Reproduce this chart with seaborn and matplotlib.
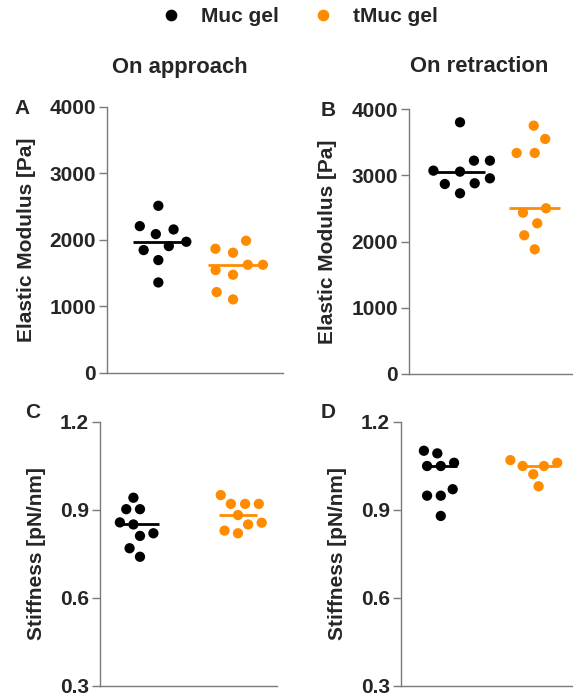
import numpy as np
import pandas as pd
import seaborn as sns
import matplotlib.pyplot as plt
from matplotlib.lines import Line2D

groups = ["Muc gel", "tMuc gel"]
colors = ["#000000", "#FF8C00"]

# elastic modulus [Pa], on approach
muc_approach_E = [2511, 2205, 2155, 2085, 1970, 1905, 1845, 1694, 1358]
tmuc_approach_E = [1985, 1865, 1805, 1624, 1624, 1544, 1474, 1213, 1103]
# elastic modulus [Pa], on retraction
muc_retract_E = [3804, 3224, 3224, 3073, 3058, 2957, 2882, 2871, 2730]
tmuc_retract_E = [3753, 3552, 3340, 3340, 2504, 2438, 2277, 2096, 1884]
# stiffness [pN/nm], on approach
muc_approach_k = [0.941, 0.902, 0.902, 0.857, 0.850, 0.820, 0.811, 0.769, 0.740]
tmuc_approach_k = [0.950, 0.920, 0.920, 0.920, 0.882, 0.856, 0.850, 0.829, 0.820]
# stiffness [pN/nm], on retraction
muc_retract_k = [1.101, 1.092, 1.060, 1.049, 1.049, 0.970, 0.948, 0.948, 0.879]
tmuc_retract_k = [1.069, 1.060, 1.049, 1.049, 1.021, 0.980]


def make_df(a, b):
    return pd.DataFrame({"group": [groups[0]] * len(a) + [groups[1]] * len(b),
                         "value": list(a) + list(b)})


sns.set_style("ticks")
plt.rcParams["font.family"] = ["Liberation Sans", "DejaVu Sans"]
plt.rcParams["font.weight"] = "bold"
plt.rcParams["axes.labelweight"] = "bold"

fig = plt.figure(figsize=(5.73, 6.98), dpi=100)

panels = [
    # rect, data, ylim, yticks, ylabel, xlim, median width, swarm spacing
    ([0.1873, 0.466, 0.3066, 0.381], make_df(muc_approach_E, tmuc_approach_E),
     (0, 4000), [0, 1000, 2000, 3000, 4000], "Elastic Modulus [Pa]", (-0.683, 1.669), 0.67, 5),
    ([0.7138, 0.4642, 0.3066, 0.3792], make_df(muc_retract_E, tmuc_retract_E),
     (0, 4000), [0, 1000, 2000, 3000, 4000], "Elastic Modulus [Pa]", (-0.683, 1.669), 0.68, 5),
    ([0.1745, 0.0172, 0.3084, 0.3787], make_df(muc_approach_k, tmuc_approach_k),
     (0.3, 1.2), [0.3, 0.6, 0.9, 1.2], "Stiffness [pN/nm]", (-0.408, 1.395), 0.39, 2),
    ([0.6998, 0.0172, 0.3084, 0.3787], make_df(muc_retract_k, tmuc_retract_k),
     (0.3, 1.2), [0.3, 0.6, 0.9, 1.2], "Stiffness [pN/nm]", (-0.407, 1.40), 0.33, 2),
]

for rect, df, ylim, yticks, ylabel, xlim, mw, gap in panels:
    ax = fig.add_axes(rect)
    # invisible thick edge widens the swarm spacing like the original layout
    sns.swarmplot(data=df, x="group", y="value", hue="group", order=groups,
                  palette=colors, size=7.4, edgecolor="none", linewidth=gap,
                  ax=ax, legend=False, zorder=3)
    # median line only
    sns.boxplot(data=df, x="group", y="value", hue="group", order=groups,
                palette=colors, fill=False, width=mw, showbox=False, showcaps=False,
                showfliers=False, whiskerprops={"visible": False},
                medianprops={"linewidth": 2}, ax=ax, legend=False)
    ax.set_ylim(*ylim)
    ax.set_xlim(*xlim)
    ax.set_yticks(yticks)
    ax.set_yticklabels([f"{t:g}" if ylim[1] > 100 else f"{t:.1f}" for t in yticks])
    ax.set_xticks([])
    ax.set_xlabel("")
    ax.set_ylabel(ylabel, fontsize=15, fontweight="bold", labelpad=10)
    ax.tick_params(axis="y", labelsize=15, length=6, width=1, color="#7a7a7a", pad=2)
    for lab in ax.get_yticklabels():
        lab.set_fontweight("bold")
    sns.despine(ax=ax)
    for s in ["left", "bottom"]:
        ax.spines[s].set_color("#7a7a7a")
        ax.spines[s].set_linewidth(1)
    ax.patch.set_visible(False)

# titles and panel letters
fig.text(180 / 573, 1 - 67 / 698, "On approach", ha="center", va="center", fontsize=15.8, fontweight="bold")
fig.text(479 / 573, 1 - 67 / 698, "On retraction", ha="center", va="center", fontsize=15.8, fontweight="bold")
for letter, x, y in [("A", 22, 108), ("B", 328, 110), ("C", 33, 413), ("D", 328, 413)]:
    fig.text(x / 573, 1 - y / 698, letter, ha="center", va="center", fontsize=15, fontweight="bold")

handles = [Line2D([], [], marker="o", linestyle="", color=c, markersize=7.4) for c in colors]
fig.legend(handles, groups, loc="center", bbox_to_anchor=(299 / 573, 1 - 17 / 698), ncol=2,
           frameon=False, handlelength=1, handletextpad=0.95, columnspacing=1.6,
           prop={"size": 15, "weight": "bold"})

fig.savefig("out.png", dpi=100)
